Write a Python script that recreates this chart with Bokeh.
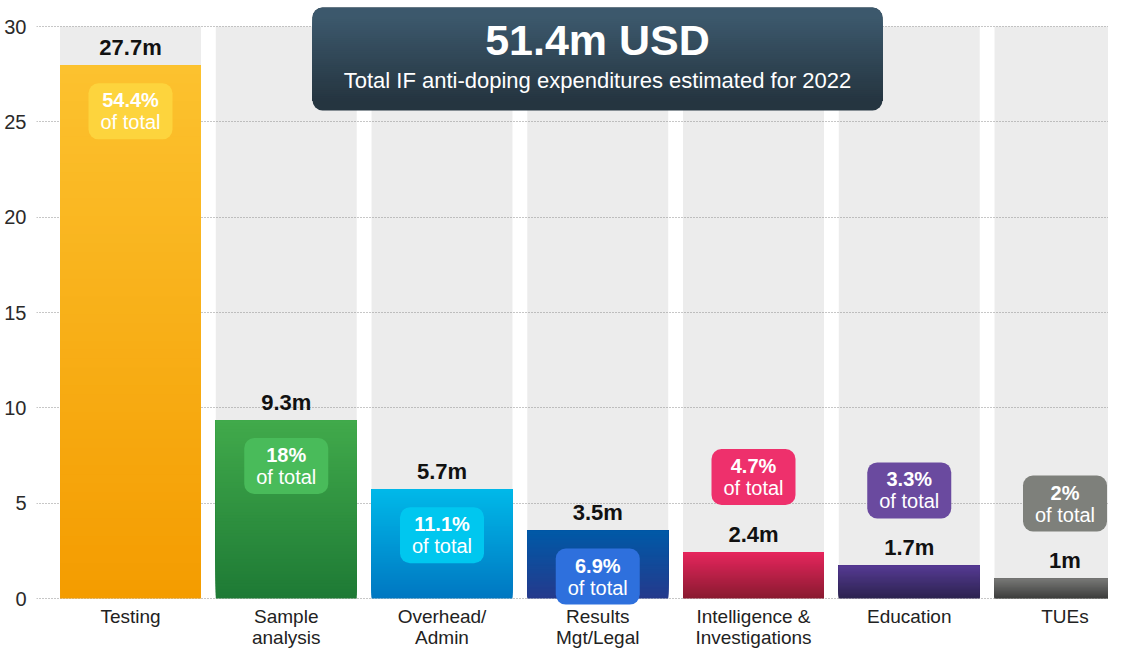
import numpy as np
from bokeh.plotting import figure
from bokeh.models import FixedTicker, Range1d
from bokeh.core.properties import value
from bokeh.embed import file_html
from bokeh.resources import INLINE

# ---- data ----
categories = ["Testing", "Sample\nanalysis", "Overhead/\nAdmin", "Results\nMgt/Legal",
              "Intelligence &\nInvestigations", "Education", "TUEs"]
amounts = [27.95, 9.35, 5.72, 3.55, 2.42, 1.72, 1.03]
amount_labels = ["27.7m", "9.3m", "5.7m", "3.5m", "2.4m", "1.7m", "1m"]
shares = ["54.4%", "18%", "11.1%", "6.9%", "4.7%", "3.3%", "2%"]
y_ticks = [0, 5, 10, 15, 20, 25, 30]
axis_max = 30
total_label = "51.4m USD"
subtitle = "Total IF anti-doping expenditures estimated for 2022"

# ---- styles ----
top_colors = ["#fcc22f", "#41aa4b", "#00b9e9", "#0059a7", "#e6265d", "#563b93", "#787976"]
bottom_colors = ["#f49c00", "#1e7a35", "#0077c1", "#253a8c", "#891a30", "#2c234f", "#3c3c3c"]
badge_colors = ["#fdd43d", "#49bb5a", "#00c7ef", "#2e70dd", "#ee306c", "#6a4a9f", "#7e807b"]
FONT = "Liberation Sans"
BAR_W = 0.905
N_BANDS = 60

# ---- layout (picture pixels) ----
FIG_W, FIG_H = 1108, 651
FRAME_LEFT_PX = 36
FRAME_L_PIC, FRAME_R_PIC = 36, 1108
Y30_PIC, Y0_PIC = 26, 598
X0_PIC, X_STEP = 130, 155.75
PXU = (Y0_PIC - Y30_PIC) / 30.0
Y_END = 30 + Y30_PIC / PXU
Y_START = Y_END - FIG_H / PXU
X_START = (FRAME_L_PIC - X0_PIC) / X_STEP
X_END = X_START + (FRAME_R_PIC - FRAME_L_PIC) / X_STEP


def y_at(py):
    return Y_END - py / PXU


def x_at(px):
    return X_START + (px - FRAME_L_PIC) / X_STEP


def hex2rgb(h):
    h = h.lstrip("#")
    return np.array([int(h[i:i + 2], 16) for i in (0, 2, 4)], dtype=float)


def mix(c0, c1, t):
    c = hex2rgb(c0) * (1 - t) + hex2rgb(c1) * t
    return "#%02x%02x%02x" % tuple(int(round(v)) for v in c)


xs = list(range(len(categories)))

p = figure(width=FIG_W, height=FIG_H, x_range=Range1d(X_START, X_END), y_range=Range1d(Y_START, Y_END),
           output_backend="svg", toolbar_location=None, min_border_left=FRAME_LEFT_PX,
           min_border_right=0, min_border_top=0, min_border_bottom=0)
p.outline_line_color = None
p.background_fill_color = "white"

# grey background columns
p.vbar(x=xs, top=[axis_max] * len(xs), bottom=0, width=BAR_W, fill_color="#ececec",
       line_color=None, level="image")

# gradient bars (each band runs to the bar top; later bands cover earlier ones)
bx, bb, bt, bc = [], [], [], []
for i, a in enumerate(amounts):
    for j in range(N_BANDS):
        bx.append(i)
        bb.append(a * j / N_BANDS)
        bt.append(a)
        bc.append(mix(bottom_colors[i], top_colors[i], (j + 0.5) / N_BANDS))
p.vbar(x=bx, bottom=bb, top=bt, width=BAR_W, fill_color=bc, line_color=None)

# value labels
p.text(x=xs, y=amounts, text=amount_labels, text_font=value(FONT), text_font_style="bold",
       text_font_size="22px", text_color="#111111", text_align="center",
       text_baseline="alphabetic", y_offset=-18)

# share badges
badge_y = [a - 2.4 if a >= 3 else a + 3.95 for a in amounts]
p.rect(x=xs, y=badge_y, width=84, height=56, width_units="screen", height_units="screen",
       fill_color=badge_colors, line_color=None, border_radius=10)
p.text(x=xs, y=badge_y, text=shares, text_font=value(FONT), text_font_style="bold",
       text_font_size="20px", text_color="white", text_align="center",
       text_baseline="alphabetic", y_offset=-11)
p.text(x=xs, y=badge_y, text=["of total"] * len(xs), text_font=value(FONT),
       text_font_size="20px", text_color="white", text_align="center",
       text_baseline="alphabetic", y_offset=11)

# category labels (drawn inside the frame below zero)
p.text(x=xs, y=[0] * len(xs), text=categories, text_font=value(FONT),
       text_font_size="19px", text_color="#222222", text_align="center",
       text_baseline="top", y_offset=7, text_line_height=1.0)

# title box
box_l, box_r, box_b, box_t = x_at(312), x_at(882), y_at(110), y_at(7)
box_top_c, box_bot_c = "#3c586c", "#253540"
p.quad(left=box_l, right=box_r, bottom=box_b, top=box_t, fill_color=box_bot_c,
       line_color=None, border_radius=10)
p.quad(left=box_l, right=box_r, bottom=y_at(60), top=box_t, fill_color=box_top_c,
       line_color=None, border_radius=10)
nb = 40
inner_b, inner_t = y_at(100), y_at(17)
tl, tr, tb, tt, tc = [], [], [], [], []
for j in range(nb):
    tl.append(box_l); tr.append(box_r)
    tb.append(inner_b)
    tt.append(inner_t - (inner_t - inner_b) * j / nb)
    tc.append(mix(box_top_c, box_bot_c, (j + 0.5) / nb))
p.quad(left=tl, right=tr, bottom=tb, top=tt, fill_color=tc, line_color=None)
p.text(x=[x_at(597)], y=[y_at(58)], text=[total_label], text_font=value(FONT), text_font_style="bold",
       text_font_size="43px", text_color="white", text_align="center", text_baseline="alphabetic",
       y_offset=-19)
p.text(x=[x_at(597)], y=[y_at(88)], text=[subtitle], text_font=value(FONT),
       text_font_size="22px", text_color="white", text_align="center", text_baseline="alphabetic",
       y_offset=-8)

# axes
p.xaxis.visible = False
p.yaxis.ticker = FixedTicker(ticks=y_ticks)
p.yaxis.axis_line_color = None
p.yaxis.major_tick_line_color = None
p.yaxis.minor_tick_line_color = None
p.yaxis.major_label_text_font = FONT
p.yaxis.major_label_text_font_size = "20px"
p.yaxis.major_label_text_color = "#2a2a2a"
p.yaxis.major_label_standoff = 4

p.xgrid.grid_line_color = None
p.ygrid.ticker = FixedTicker(ticks=y_ticks)
p.ygrid.grid_line_color = "#8f8f8f"
p.ygrid.grid_line_dash = "1 2"
p.ygrid.grid_line_width = 1

open("out.html", "w").write(file_html(p, INLINE))
